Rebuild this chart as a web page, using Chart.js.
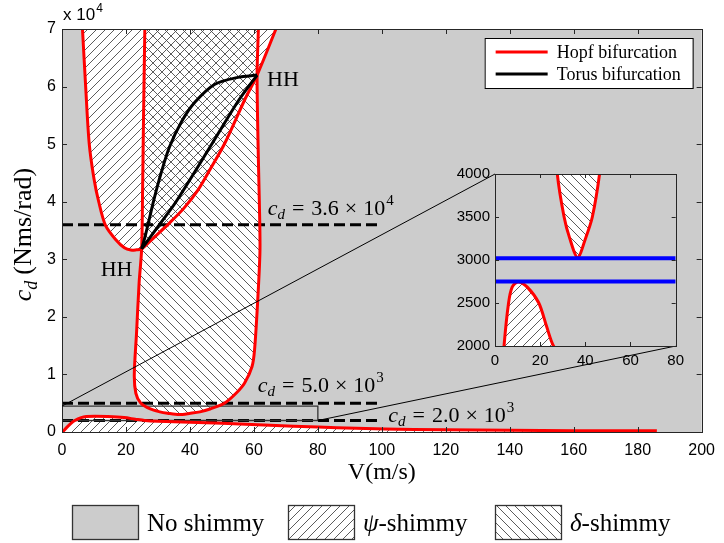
<!DOCTYPE html>
<html>
<head>
<meta charset="utf-8">
<title>Shimmy stability map</title>
<style>
  body { margin: 0; background: #fff; }
  #wrap { position: relative; width: 724px; height: 543px; }
  #main { position: absolute; left: 0; top: 0; }
  #inset { position: absolute; left: 430px; top: 160px; }
</style>
</head>
<body>
<div id="wrap">
  <canvas id="main" width="724" height="543"></canvas>
  <canvas id="inset" width="260" height="215"></canvas>
</div>

<script src="https://cdn.jsdelivr.net/npm/chart.js"></script>

<script>
  // axis ranges
  var mainV = [0, 200], mainVStep = 20;
  var mainCd = [0, 70000], mainCdStep = 10000;
  var insetV = [0, 80], insetVStep = 20;
  var insetCd = [2000, 4000], insetCdStep = 500;

  // Hopf curve bounding the psi-shimmy region (U shape through both HH points)
  var psiV  = [6.4, 7.4, 8.5, 10.0, 11.5, 13.6, 16.9, 19.5, 21.5, 23.3, 24.9, 29.0, 33.4, 38.0, 42.5, 46.5, 50.9, 57.1, 61.0, 66.9];
  var psiCd = [70000, 60000, 50150, 44000, 39950, 35900, 33350, 32000, 31600, 31650, 31800, 33900, 36200, 38800, 42000, 45800, 50150, 57670, 62000, 70000];

  // Hopf curve bounding the delta-shimmy region
  var deltaV  = [25.9, 25.5, 25.2, 24.9, 24.1, 23.3, 22.6, 23.1, 24.6, 27.6, 30.6, 33.0, 36.6, 40.2, 43.1, 46.3, 50.9, 54.5, 57.1, 59.4, 60.2, 61.2, 61.9, 61.7, 61.3, 61.0, 61.4];
  var deltaCd = [70000, 55000, 42000, 31800, 25830, 17140, 9900, 6720, 5040, 4000, 3500, 3260, 3030, 3260, 3500, 4000, 5040, 6770, 8510, 11340, 14240, 22930, 31600, 40000, 50000, 62000, 70000];

  // low Hopf curve (psi-shimmy below it)
  var lowV  = [0.2, 1.5, 2.8, 4.0, 6.0, 7.6, 10.3, 14.3, 19.4, 22.9, 25.9, 30, 40, 50, 65, 80, 92, 110, 130, 150, 170, 186];
  var lowCd = [0, 800, 1500, 2000, 2500, 2685, 2745, 2685, 2500, 2223, 2000, 1870, 1700, 1520, 1160, 880, 650, 450, 330, 260, 220, 200];

  // torus bifurcation curves between the two HH points
  var torusUpV  = [24.9, 26.0, 27.3, 28.8, 31.0, 33.6, 37.5, 41.6, 47.8, 55.0, 61.0];
  var torusUpCd = [31800, 34000, 37000, 40500, 45000, 49500, 54000, 57300, 60400, 61600, 62000];
  var torusLoV  = [24.9, 30.3, 35.6, 47.0, 55.3, 61.0];
  var torusLoCd = [31800, 35900, 39950, 50150, 57670, 62000];

  // double Hopf points
  var hhV  = [61.0, 24.9];
  var hhCd = [62000, 31800];

  // damping levels (dashed) and inset levels (blue)
  var dashCd = [36000, 5000, 2000];
  var dashV = [0, 99];
  var blueCd = [3020, 2750];

  // zoom window drawn in main plot
  var boxV = [0, 80];
  var boxCd = [2000, 4500];

  var SERIF = '"Liberation Serif", "Times New Roman", serif';
  var SANS = '"Liberation Sans", Arial, Helvetica, sans-serif';
  var RED = '#ff0000', GRAY = '#cccccc';

  Chart.defaults.font.family = SANS;
  Chart.defaults.color = '#000';

  function hatch(dir, bg) {
    var s = 9, c = document.createElement('canvas');
    c.width = s; c.height = s;
    var g = c.getContext('2d');
    if (bg) { g.fillStyle = bg; g.fillRect(0, 0, s, s); }
    g.strokeStyle = '#4a4a4a';
    g.lineWidth = 0.9;
    g.beginPath();
    for (var k = -1; k <= 1; k++) {
      if (dir > 0) { g.moveTo(k * s, s); g.lineTo(k * s + s, 0); }
      else { g.moveTo(k * s, 0); g.lineTo(k * s + s, s); }
    }
    g.stroke();
    return g.createPattern(c, 'repeat');
  }
  var psiFill = hatch(1, '#ffffff');
  var deltaLines = hatch(-1, null);

  function pts(xs, ys) {
    return xs.map(function (x, i) { return {x: x, y: ys[i]}; });
  }
  function hline(xs, y) {
    return [{x: xs[0], y: y}, {x: xs[1], y: y}];
  }
  function area(data, fill, bg, order) {
    return {data: data, fill: fill, backgroundColor: bg, borderColor: 'transparent', borderWidth: 0, order: order, clip: 0};
  }
  function curve(data, color, width, order, extra) {
    var d = {data: data, fill: false, borderColor: color, borderWidth: width, order: order, clip: 0};
    for (var k in extra) d[k] = extra[k];
    return d;
  }

  // text with italic / sub / superscript pieces
  function partsWidth(ctx, parts) {
    var w = 0;
    parts.forEach(function (p) {
      ctx.font = (p.it ? 'italic ' : '') + p.s + 'px ' + (p.f || SERIF);
      w += ctx.measureText(p.t).width + (p.gap || 0);
    });
    return w;
  }
  function drawParts(ctx, x, y, parts) {
    parts.forEach(function (p) {
      ctx.font = (p.it ? 'italic ' : '') + p.s + 'px ' + (p.f || SERIF);
      ctx.fillText(p.t, x, y + (p.dy || 0));
      x += ctx.measureText(p.t).width + (p.gap || 0);
    });
    return x;
  }

  // gray plot area, inward ticks on four sides, box
  var frame = {
    id: 'frame',
    beforeDraw: function (chart) {
      var a = chart.chartArea, ctx = chart.ctx;
      ctx.save();
      ctx.fillStyle = GRAY;
      ctx.fillRect(a.left, a.top, a.right - a.left, a.bottom - a.top);
      ctx.restore();
    },
    afterDatasetsDraw: function (chart, args, opts) {
      var a = chart.chartArea, ctx = chart.ctx, len = opts.tick;
      var sx = chart.scales.x, sy = chart.scales.y;
      ctx.save();
      ctx.strokeStyle = '#262626';
      ctx.lineWidth = 1;
      ctx.beginPath();
      sx.ticks.forEach(function (t) {
        var px = Math.round(sx.getPixelForValue(t.value)) + 0.5;
        ctx.moveTo(px, a.bottom); ctx.lineTo(px, a.bottom - len);
        ctx.moveTo(px, a.top); ctx.lineTo(px, a.top + len);
      });
      sy.ticks.forEach(function (t) {
        var py = Math.round(sy.getPixelForValue(t.value)) + 0.5;
        ctx.moveTo(a.left, py); ctx.lineTo(a.left + len, py);
        ctx.moveTo(a.right, py); ctx.lineTo(a.right - len, py);
      });
      ctx.stroke();
      ctx.strokeRect(Math.round(a.left) + 0.5, Math.round(a.top) + 0.5,
        Math.round(a.right - a.left), Math.round(a.bottom - a.top));
      ctx.restore();
    }
  };

  // ---------- inset ----------
  var insetCanvas = document.getElementById('inset');
  var insetChart = new Chart(insetCanvas, {
    type: 'line',
    data: {
      datasets: [
        area(pts(deltaV, deltaCd), 'shape', '#ffffff', 20),
        area(pts(deltaV, deltaCd), 'shape', deltaLines, 18),
        area(pts(lowV, lowCd), 'origin', psiFill, 17),
        curve(hline(insetV, blueCd[0]), '#0000ff', 4, 3, {tension: 0}),
        curve(hline(insetV, blueCd[1]), '#0000ff', 4, 3, {tension: 0}),
        curve(pts(deltaV, deltaCd), RED, 3, 5),
        curve(pts(lowV, lowCd), RED, 3, 5)
      ]
    },
    options: {
      responsive: false,
      animation: false,
      events: [],
      layout: {padding: {left: 0, top: 13, right: 9, bottom: 0}},
      elements: {point: {radius: 0}, line: {tension: 0.3, capBezierPoints: false}},
      scales: {
        x: {
          type: 'linear', min: insetV[0], max: insetV[1],
          grid: {display: false, drawTicks: false}, border: {display: false},
          ticks: {stepSize: insetVStep, padding: 6, maxRotation: 0, font: {size: 15}},
          afterFit: function (s) { s.height = 29; }
        },
        y: {
          type: 'linear', min: insetCd[0], max: insetCd[1],
          grid: {display: false, drawTicks: false}, border: {display: false},
          ticks: {stepSize: insetCdStep, padding: 5, font: {size: 15},
            callback: function (v) { return String(v); }},
          afterFit: function (s) { s.width = 65; }
        }
      },
      plugins: {legend: {display: false}, tooltip: {enabled: false}, frame: {tick: 4}}
    },
    plugins: [frame]
  });

  // ---------- labels, legends, zoom connectors on the main plot ----------
  var decor = {
    id: 'decor',
    afterDatasetsDraw: function (chart) {
      var ctx = chart.ctx, sx = chart.scales.x, sy = chart.scales.y;
      var ia = insetChart.chartArea;
      var ox = insetCanvas.offsetLeft, oy = insetCanvas.offsetTop;
      ctx.save();
      ctx.strokeStyle = '#000';
      ctx.lineWidth = 1;
      ctx.beginPath();
      ctx.moveTo(sx.getPixelForValue(boxV[0]), sy.getPixelForValue(boxCd[1]));
      ctx.lineTo(ox + ia.left, oy + ia.top);
      ctx.moveTo(sx.getPixelForValue(boxV[1]), sy.getPixelForValue(boxCd[0]));
      ctx.lineTo(ox + ia.right, oy + ia.bottom);
      ctx.stroke();
      ctx.restore();
    },
    afterDraw: function (chart) {
      var ctx = chart.ctx, sx = chart.scales.x, sy = chart.scales.y, a = chart.chartArea;
      ctx.save();
      ctx.fillStyle = '#000';
      ctx.textAlign = 'left';
      ctx.textBaseline = 'alphabetic';

      // exponent of the y axis
      drawParts(ctx, a.left + 1, a.top - 9, [
        {t: 'x 10', s: 17, f: SANS, gap: 1},
        {t: '4', s: 12, f: SANS, dy: -8}
      ]);

      // HH labels
      ctx.font = '22px ' + SERIF;
      ctx.fillText('HH', sx.getPixelForValue(hhV[0]) + 10, sy.getPixelForValue(hhCd[0]) + 11);
      ctx.fillText('HH', sx.getPixelForValue(hhV[1]) - 41, sy.getPixelForValue(hhCd[1]) + 27);

      // damping level labels
      var at = [[64.3, -10], [61.2, -11], [102, 2]];
      dashCd.forEach(function (v, i) {
        var e = Math.floor(Math.log10(v));
        var m = (v / Math.pow(10, e)).toFixed(1);
        drawParts(ctx, sx.getPixelForValue(at[i][0]), sy.getPixelForValue(v) + at[i][1], [
          {t: 'c', it: true, s: 22},
          {t: 'd', it: true, s: 15, dy: 4, gap: 7},
          {t: '=', s: 22, gap: 7},
          {t: m, s: 22, gap: 6},
          {t: '\u00d7', s: 22, gap: 6},
          {t: '10', s: 22, gap: 1},
          {t: String(e), s: 15, dy: -10}
        ]);
      });

      // legend inside the plot
      var lx = a.right - 217, ly = a.top + 9;
      ctx.fillStyle = '#fff';
      ctx.fillRect(lx, ly, 208, 50);
      ctx.strokeStyle = '#000';
      ctx.lineWidth = 1;
      ctx.strokeRect(lx + 0.5, ly + 0.5, 208, 50);
      [['Hopf bifurcation', RED, 14], ['Torus bifurcation', '#000', 36]].forEach(function (it) {
        ctx.strokeStyle = it[1];
        ctx.lineWidth = 3;
        ctx.beginPath();
        ctx.moveTo(lx + 11, ly + it[2]);
        ctx.lineTo(lx + 63, ly + it[2]);
        ctx.stroke();
        ctx.fillStyle = '#000';
        ctx.font = '18px ' + SERIF;
        ctx.fillText(it[0], lx + 72, ly + it[2] + 6);
      });

      // region legend under the plot
      var items = [
        {x: 72, fill: [GRAY], parts: [{t: 'No shimmy', s: 25}]},
        {x: 288, fill: [psiFill], parts: [{t: '\u03c8', it: true, s: 25}, {t: '-shimmy', s: 25}]},
        {x: 495, fill: ['#fff', deltaLines], parts: [{t: '\u03b4', it: true, s: 25}, {t: '-shimmy', s: 25}]}
      ];
      items.forEach(function (it) {
        it.fill.forEach(function (f) {
          ctx.fillStyle = f;
          ctx.fillRect(it.x, 505, 66, 34);
        });
        ctx.strokeStyle = '#333';
        ctx.lineWidth = 1.3;
        ctx.strokeRect(it.x + 0.5, 505.5, 66, 34);
        ctx.fillStyle = '#000';
        drawParts(ctx, it.x + 75, 531, it.parts);
      });

      // y axis title, rotated
      var yt = [
        {t: 'c', it: true, s: 26},
        {t: 'd', it: true, s: 18, dy: 6, gap: 6},
        {t: '(Nms/rad)', s: 26}
      ];
      ctx.translate(31, (a.top + a.bottom) / 2 + 4);
      ctx.rotate(-Math.PI / 2);
      drawParts(ctx, -partsWidth(ctx, yt) / 2, 0, yt);
      ctx.restore();
    }
  };

  // ---------- main plot ----------
  var mainChart = new Chart(document.getElementById('main'), {
    type: 'line',
    data: {
      datasets: [
        area(pts(deltaV, deltaCd), 'shape', '#ffffff', 20),
        area(pts(psiV, psiCd), 'shape', psiFill, 19),
        area(pts(deltaV, deltaCd), 'shape', deltaLines, 18),
        area(pts(lowV, lowCd), 'origin', psiFill, 17),
        curve(hline(dashV, dashCd[0]), '#000', 3, 9, {borderDash: [11, 5], tension: 0}),
        curve(hline(dashV, dashCd[1]), '#000', 3, 9, {borderDash: [11, 5], tension: 0}),
        curve(hline(dashV, dashCd[2]), '#000', 3, 9, {borderDash: [11, 5], tension: 0}),
        curve(pts([boxV[0], boxV[1], boxV[1], boxV[0], boxV[0]], [boxCd[0], boxCd[0], boxCd[1], boxCd[1], boxCd[0]]),
          '#333', 1.3, 8, {tension: 0}),
        curve(pts(psiV, psiCd), RED, 3, 5),
        curve(pts(deltaV, deltaCd), RED, 3, 5),
        curve(pts(lowV, lowCd), RED, 3, 5),
        curve(pts(torusUpV, torusUpCd), '#000', 3, 4),
        curve(pts(torusLoV, torusLoCd), '#000', 3, 4)
      ]
    },
    options: {
      responsive: false,
      animation: false,
      events: [],
      layout: {padding: {left: 0, top: 29, right: 15, bottom: 56}},
      elements: {point: {radius: 0}, line: {tension: 0.3, capBezierPoints: false}},
      scales: {
        x: {
          type: 'linear', min: mainV[0], max: mainV[1],
          grid: {display: false, drawTicks: false}, border: {display: false},
          ticks: {stepSize: mainVStep, padding: 9, maxRotation: 0, font: {size: 16}},
          title: {display: true, text: 'V(m/s)', font: {family: SERIF, size: 24}, padding: 0},
          afterFit: function (s) { s.height = 55; }
        },
        y: {
          type: 'linear', min: mainCd[0], max: mainCd[1],
          grid: {display: false, drawTicks: false}, border: {display: false},
          ticks: {stepSize: mainCdStep, padding: 6, font: {size: 16},
            callback: function (v) { return v / 10000; }},
          afterFit: function (s) { s.width = 62; }
        }
      },
      plugins: {legend: {display: false}, tooltip: {enabled: false}, frame: {tick: 5}}
    },
    plugins: [frame, decor]
  });
</script>
</body>
</html>
